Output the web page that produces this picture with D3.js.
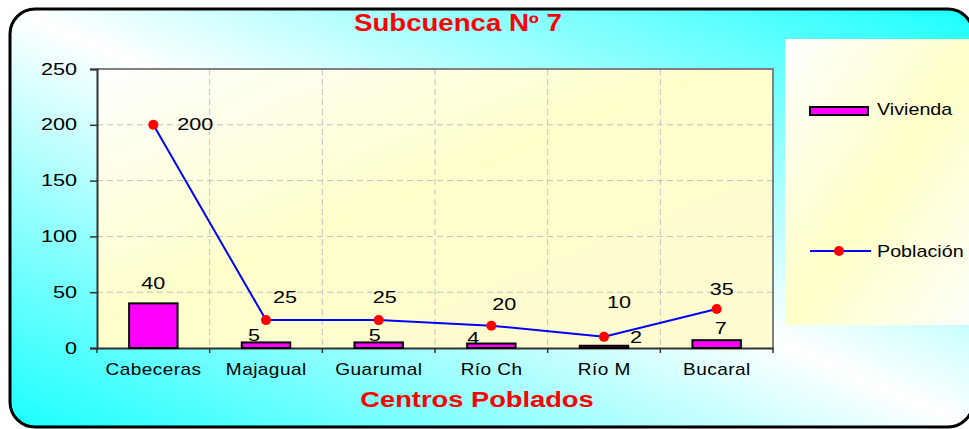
<!DOCTYPE html>
<html>
<head>
<meta charset="utf-8">
<script src="https://cdn.jsdelivr.net/npm/d3@7"></script>
<style>
  body { margin: 0; background: #ffffff; }
  svg { display: block; font-family: "Liberation Sans", Arial, sans-serif; }
</style>
</head>
<body>
<div id="chart"></div>
<script>
// Data
var categories = ["Cabeceras", "Majagual", "Guarumal", "Río Ch", "Río M", "Bucaral"];
var vivienda = [40, 5, 5, 4, 2, 7];
var poblacion = [200, 25, 25, 20, 10, 35];
var yTicks = [0, 50, 100, 150, 200, 250];
var seriesNames = ["Vivienda", "Población"];
var chartTitle = "Subcuenca Nº 7";
var xTitle = "Centros Poblados";

var width = 969, height = 429;
var margin = { top: 69, right: 196, bottom: 81, left: 97 };

var svg = d3.select("#chart")
    .append("svg")
    .attr("width", width)
    .attr("height", height);

// The old Excel picture renders text wide; stretch it horizontally around its anchor
function stretch(sel, sx) {
    sel.each(function () {
        var t = d3.select(this);
        var tx = +t.attr("x") || 0, ty = +t.attr("y") || 0;
        t.attr("x", 0).attr("y", 0)
         .attr("transform", `translate(${tx},${ty}) scale(${sx},1)`);
    });
}

var defs = svg.append("defs");

// Outer background: cyan at bottom-left and top-right, white across the diagonal
var bgGrad = defs.append("linearGradient")
    .attr("id", "bgGrad")
    .attr("x1", 0).attr("y1", 1).attr("x2", 1).attr("y2", 0);
bgGrad.append("stop").attr("offset", "0%").attr("stop-color", "#1affff");
bgGrad.append("stop").attr("offset", "50%").attr("stop-color", "#ffffff");
bgGrad.append("stop").attr("offset", "100%").attr("stop-color", "#1affff");

var plotGrad = defs.append("linearGradient")
    .attr("id", "plotGrad")
    .attr("x1", 0).attr("y1", 0).attr("x2", 1).attr("y2", 1);
plotGrad.append("stop").attr("offset", "0%").attr("stop-color", "#ffffff");
plotGrad.append("stop").attr("offset", "45%").attr("stop-color", "#ffffcc");
plotGrad.append("stop").attr("offset", "100%").attr("stop-color", "#fffbd2");

var legGrad = defs.append("linearGradient")
    .attr("id", "legGrad")
    .attr("x1", 0).attr("y1", 0).attr("x2", 1).attr("y2", 1);
legGrad.append("stop").attr("offset", "0%").attr("stop-color", "#ffffff");
legGrad.append("stop").attr("offset", "50%").attr("stop-color", "#ffffc8");
legGrad.append("stop").attr("offset", "100%").attr("stop-color", "#ffffff");

svg.append("rect")
    .attr("x", 10).attr("y", 9)
    .attr("width", 963).attr("height", 418)
    .attr("rx", 25).attr("ry", 25)
    .attr("fill", "url(#bgGrad)")
    .attr("stroke", "#000")
    .attr("stroke-width", 3);

// Scales
var x = d3.scaleBand()
    .domain(categories)
    .range([margin.left, width - margin.right])
    .padding(0);
var y = d3.scaleLinear()
    .domain([0, 250])
    .range([height - margin.bottom, margin.top]);

var x0 = margin.left, x1 = width - margin.right;
var yTop = margin.top, yBot = height - margin.bottom;

// Plot area
svg.append("rect")
    .attr("x", x0).attr("y", yTop)
    .attr("width", x1 - x0).attr("height", yBot - yTop)
    .attr("fill", "url(#plotGrad)");

// Grid lines
svg.append("g")
  .selectAll("line")
  .data(yTicks.filter(d => d > 0 && d < 250))
  .join("line")
    .attr("x1", x0).attr("x2", x1)
    .attr("y1", d => y(d)).attr("y2", d => y(d))
    .attr("stroke", "#c0c0c0")
    .attr("stroke-width", 1)
    .attr("stroke-dasharray", "6,4");

svg.append("g")
  .selectAll("line")
  .data(categories.slice(1))
  .join("line")
    .attr("x1", d => x(d)).attr("x2", d => x(d))
    .attr("y1", yTop).attr("y2", yBot)
    .attr("stroke", "#c0c0c0")
    .attr("stroke-width", 1)
    .attr("stroke-dasharray", "6,4");

// Plot border (top and right)
svg.append("path")
    .attr("d", `M${x0},${yTop}H${x1}V${yBot}`)
    .attr("fill", "none")
    .attr("stroke", "#808080")
    .attr("stroke-width", 2);

// Y axis
var yAxis = svg.append("g")
    .attr("transform", `translate(${x0},0)`)
    .call(d3.axisLeft(y).tickValues(yTicks).tickSize(7).tickPadding(13))
    .call(g => g.select(".domain").attr("stroke", "#333").attr("stroke-width", 2))
    .call(g => g.selectAll(".tick line").attr("stroke", "#333").attr("stroke-width", 1.5))
    .call(g => g.selectAll(".tick text")
        .attr("fill", "#000")
        .style("font-size", "17px")
        .attr("dy", 5)
        .call(stretch, 1.27));
yAxis.attr("font-family", null).attr("font-size", null);

// X axis: labels centred in each band, ticks on band boundaries
var xAxis = svg.append("g")
    .attr("transform", `translate(0,${yBot})`)
    .call(d3.axisBottom(x).tickSize(0).tickPadding(27))
    .call(g => g.select(".domain").attr("stroke", "#333").attr("stroke-width", 2))
    .call(g => g.selectAll(".tick text")
        .attr("fill", "#000")
        .style("font-size", "17px")
        .style("letter-spacing", "0.4px")
        .attr("dx", 0.2)
        .attr("dy", 0)
        .call(stretch, 1.12));
xAxis.attr("font-family", null).attr("font-size", null);

svg.append("g")
  .selectAll("line")
  .data(categories.map(c => x(c)).concat([x1]))
  .join("line")
    .attr("x1", d => d).attr("x2", d => d)
    .attr("y1", yBot).attr("y2", yBot + 5)
    .attr("stroke", "#333")
    .attr("stroke-width", 1.5);

// Bars
var barW = x.bandwidth() * 0.43;
svg.append("g")
  .selectAll("rect")
  .data(vivienda)
  .join("rect")
    .attr("x", (d, i) => x(categories[i]) + x.bandwidth() / 2 - barW / 2)
    .attr("y", d => y(d))
    .attr("width", barW)
    .attr("height", d => y(0) - y(d))
    .attr("fill", "#ff00ff")
    .attr("stroke", "#000")
    .attr("stroke-width", 2);

// Line
var cx = i => x(categories[i]) + x.bandwidth() / 2;
var line = d3.line()
    .x((d, i) => cx(i))
    .y(d => y(d));
svg.append("path")
    .datum(poblacion)
    .attr("d", line)
    .attr("fill", "none")
    .attr("stroke", "#0000ff")
    .attr("stroke-width", 2);

svg.append("g")
  .selectAll("circle")
  .data(poblacion)
  .join("circle")
    .attr("cx", (d, i) => cx(i))
    .attr("cy", d => y(d))
    .attr("r", 5)
    .attr("fill", "#ff0000");

// Data labels (nudged like the hand-placed Excel labels)
var popNudge = [[42, 5], [19, -17], [6, -17], [13, -16], [15, -29], [5, -14]];
var vivNudge = [[0, -14], [-12, -1], [-4, -1], [-18, 0], [32, -3], [4, -6]];

svg.append("g")
  .selectAll("text")
  .data(poblacion)
  .join("text")
    .attr("x", (d, i) => cx(i) + popNudge[i][0])
    .attr("y", (d, i) => y(d) + popNudge[i][1])
    .attr("text-anchor", "middle")
    .style("font-size", "17px")
    .attr("fill", "#000")
    .text(d => d)
    .call(stretch, 1.27);

svg.append("g")
  .selectAll("text")
  .data(vivienda)
  .join("text")
    .attr("x", (d, i) => cx(i) + vivNudge[i][0])
    .attr("y", (d, i) => y(d) + vivNudge[i][1])
    .attr("text-anchor", "middle")
    .style("font-size", "17px")
    .attr("fill", "#000")
    .text(d => d)
    .call(stretch, 1.27);

// Titles
svg.append("text")
    .attr("x", 458).attr("y", 31)
    .attr("text-anchor", "middle")
    .style("font-size", "23px")
    .style("font-weight", "bold")
    .attr("fill", "#ff0000")
    .text(chartTitle)
    .call(stretch, 1.2);

svg.append("text")
    .attr("x", 477).attr("y", 407)
    .attr("text-anchor", "middle")
    .style("font-size", "22px")
    .style("font-weight", "bold")
    .attr("fill", "#ff0000")
    .text(xTitle)
    .call(stretch, 1.24);

// Legend
var legend = svg.append("g");
legend.append("rect")
    .attr("x", 785).attr("y", 39)
    .attr("width", 200).attr("height", 286)
    .attr("fill", "url(#legGrad)");

legend.append("rect")
    .attr("x", 810).attr("y", 107)
    .attr("width", 58).attr("height", 8)
    .attr("fill", "#ff00ff")
    .attr("stroke", "#000")
    .attr("stroke-width", 2);
legend.append("line")
    .attr("x1", 810).attr("x2", 871)
    .attr("y1", 251).attr("y2", 251)
    .attr("stroke", "#0000ff")
    .attr("stroke-width", 2);
legend.append("circle")
    .attr("cx", 839).attr("cy", 251)
    .attr("r", 5)
    .attr("fill", "#ff0000");

legend.selectAll("text.lbl")
  .data(seriesNames)
  .join("text")
    .attr("class", "lbl")
    .attr("x", 877)
    .attr("y", (d, i) => i === 0 ? 115 : 257)
    .style("font-size", "17px")
    .attr("fill", "#000")
    .text(d => d)
    .call(stretch, 1.16);
</script>
</body>
</html>
